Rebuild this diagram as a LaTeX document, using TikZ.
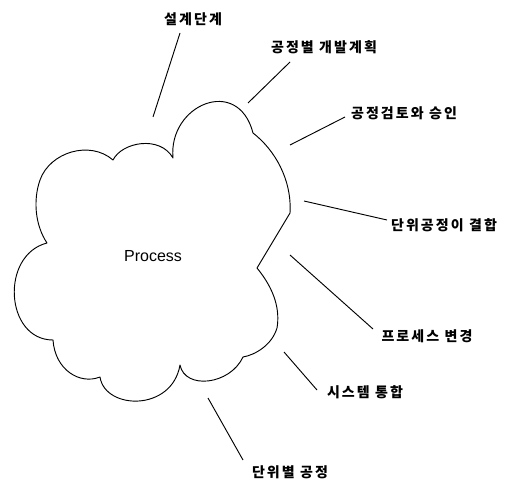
\documentclass[tikz,border=0pt]{standalone}
\usepackage{fontspec}
\setmainfont{Liberation Sans}
\newfontfamily\kor{Noto Sans CJK KR}[LetterSpace=15]
\tikzstyle{stage}=[font=\kor\bfseries\fontsize{10.5}{12}\selectfont, inner sep=0]
\tikzstyle{cloud line}=[line width=0.7pt, line join=round]
\tikzstyle{leader}=[line width=0.7pt]

\begin{document}
\begin{tikzpicture}[x=0.75pt, y=-0.75pt]
    \useasboundingbox (0, 0) rectangle (513, 481);

    \draw[cloud line] (113, 160)
      .. controls (122, 142) and (160, 135) .. (173, 158)
      .. controls (168, 105) and (238, 75) .. (253, 133)
      .. controls (275, 150) and (292, 180) .. (290, 213)
      -- (257, 268)
      .. controls (275, 290) and (280, 310) .. (277, 328)
      .. controls (272, 345) and (255, 355) .. (243, 357)
      .. controls (230, 385) and (185, 390) .. (180, 365)
      .. controls (172, 412) and (105, 410) .. (100, 377)
      .. controls (80, 385) and (55, 370) .. (53, 340)
      .. controls (5, 340) and (0, 255) .. (47, 243)
      .. controls (35, 225) and (33, 200) .. (40, 180)
      .. controls (50, 152) and (90, 140) .. cycle;
    \node[font=\fontsize{12}{14}\selectfont] (process) at (153, 256) {Process};

    \node[stage] (design) at (193, 19) {설계단계};
    \node[stage] (plan) at (324, 47) {공정별 개발계획};
    \node[stage] (review) at (404, 113) {공정검토와 승인};
    \node[stage] (combine) at (444, 225) {단위공정이 결합};
    \node[stage] (change) at (427, 336) {프로세스 변경};
    \node[stage] (integrate) at (365, 392) {시스템 통합};
    \node[stage] (unit) at (290, 472) {단위별 공정};

    \coordinate (design_a) at (153, 117);
    \coordinate (design_b) at (180, 33);
    \coordinate (plan_a) at (248, 103);
    \coordinate (plan_b) at (290, 62);
    \coordinate (review_a) at (290, 145);
    \coordinate (review_b) at (345, 117);
    \coordinate (combine_a) at (304, 201);
    \coordinate (combine_b) at (387, 220);
    \coordinate (change_a) at (290, 255);
    \coordinate (change_b) at (373, 329);
    \coordinate (integrate_a) at (284, 352);
    \coordinate (integrate_b) at (317, 390);
    \coordinate (unit_a) at (208, 398);
    \coordinate (unit_b) at (243, 460);

    \foreach \n in {design, plan, review, combine, change, integrate, unit}
      \draw[leader] (\n_a) -- (\n_b);
\end{tikzpicture}
\end{document}
